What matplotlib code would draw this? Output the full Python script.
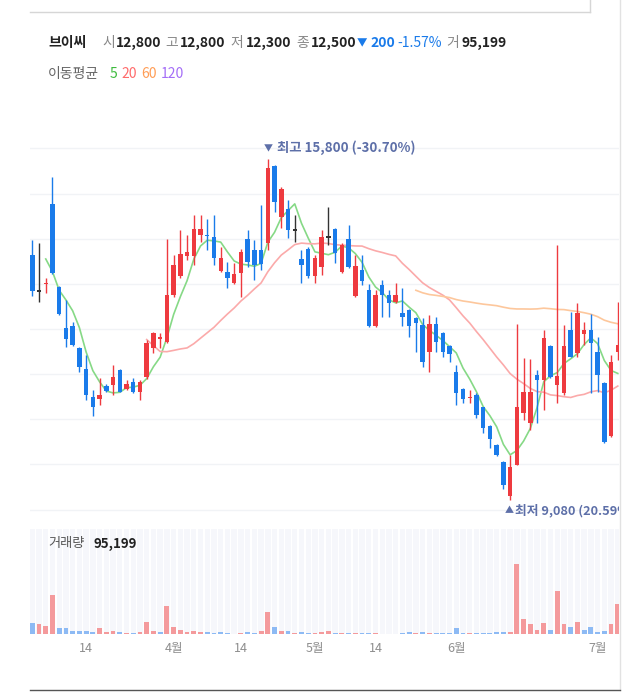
import numpy as np
import matplotlib
matplotlib.use('Agg')
import matplotlib.pyplot as plt
from matplotlib.lines import Line2D

plt.rcParams['font.family'] = ['Noto Sans CJK KR', 'DejaVu Sans']

# two sessions before the first visible candle (only needed for the moving averages)
pre_close = [14800, 14590]

opens = [13910, 13200, 13340, 14910, 13280, 12470, 12510, 12080, 11660, 11110,
         11070, 11330, 11350, 11640, 11270, 11410, 11210, 11500, 12070, 12250,
         12200, 13110, 13500, 13890, 13890, 14300, 14300, 14260, 13600, 13570,
         13350, 13550, 14220, 14010, 14010, 14140, 15660, 14660, 14810, 14400,
         13830, 14030, 13490, 13670, 14260, 14420, 13570, 14220, 13100, 13610,
         13220, 12510, 13320, 13120, 12980, 12770, 12820, 12670, 12530, 12000,
         12550, 12370, 12110, 11610, 11260, 11080, 11150, 10910, 10540, 10160,
         9830, 9160, 9770, 10800, 10600, 11540, 11440, 12110, 11350, 11180,
         12420, 11970, 12350, 12430, 12000, 11390, 10340, 12000]
highs = [14200, 14140, 13460, 15450, 13300, 13020, 12590, 12100, 11940, 11250,
         11480, 11370, 11740, 11660, 11440, 11480, 11440, 12230, 12400, 12370,
         14220, 13910, 14400, 14300, 14700, 14700, 14610, 14700, 14070, 13770,
         13750, 14030, 14400, 14200, 14890, 15800, 15680, 15250, 14990, 14700,
         14010, 14070, 13910, 14400, 14850, 14440, 14140, 14500, 13910, 13910,
         13340, 13220, 13420, 13220, 13360, 13260, 12840, 12690, 12670, 12730,
         12690, 12400, 12130, 11740, 11280, 11250, 11180, 10920, 10560, 10180,
         9840, 9970, 12550, 11870, 11850, 11640, 12430, 12130, 14110, 12530,
         12790, 12960, 12590, 12750, 12300, 11400, 11940, 12980]
lows = [13100, 12980, 13160, 13540, 12730, 12100, 12120, 11610, 11050, 10740,
        10950, 11210, 11150, 11200, 11250, 11190, 11050, 11460, 11980, 12080,
        12170, 13090, 13460, 13810, 13710, 14170, 14010, 13710, 13580, 13250,
        13340, 13080, 13680, 13420, 13610, 14010, 14760, 14440, 14240, 14160,
        13360, 13450, 13360, 13510, 14110, 13750, 13550, 13660, 13090, 13320,
        12490, 12490, 12690, 12690, 12960, 12500, 12300, 12000, 11710, 11610,
        12000, 11900, 11790, 10950, 10990, 11000, 10690, 10400, 10100, 9950,
        9290, 9080, 9760, 10660, 10460, 10590, 10850, 11480, 11000, 11150,
        11890, 11900, 12130, 11190, 11210, 10200, 10330, 11840]
closes = [13200, 13200, 13360, 13550, 12750, 12250, 12130, 11700, 11150, 10910,
          11150, 11230, 11510, 11210, 11360, 11210, 11410, 12170, 12380, 12300,
          13120, 13710, 13920, 13960, 14420, 14420, 14280, 13850, 13840, 13450,
          13530, 13970, 13770, 13710, 13730, 15620, 14950, 15210, 14400, 14400,
          13710, 13490, 13850, 14260, 14260, 13950, 14110, 13670, 13690, 13400,
          12510, 13120, 13120, 12960, 13120, 12690, 12510, 12570, 11800, 12550,
          12200, 12000, 11960, 11180, 11060, 11110, 10750, 10500, 10280, 9970,
          9380, 9720, 10920, 11210, 11210, 11440, 12270, 11510, 11520, 12110,
          11900, 12770, 12420, 12180, 11540, 10230, 11790, 12130]
volumes = [36000, 32000, 25600, 126000, 18200, 18200, 10600, 10600, 10600, 6400,
           18200, 6400, 10600, 6400, 3200, 3200, 6400, 39400, 10600, 6400,
           90600, 21400, 12800, 6400, 10600, 6400, 6400, 3200, 6400, 3200,
           1600, 3200, 6400, 3200, 10600, 69400, 23400, 10600, 10600, 3200,
           6400, 3200, 3200, 5400, 10600, 3200, 3200, 3200, 3200, 2200,
           3200, 2200, 1600, 1600, 1600, 4800, 7400, 3200, 6400, 3200,
           3200, 3200, 3200, 18200, 3200, 3200, 3200, 3200, 3200, 6400,
           6400, 7400, 224000, 48000, 32000, 13800, 35200, 13800, 138600, 32000,
           21400, 39400, 13800, 21400, 5400, 9600, 32000, 95199]

hi_pct = -30.70
lo_pct = 20.59

tick_pos = [8, 21, 31, 42, 51, 63, 84]
tick_labels = ['14', '4월', '14', '5월', '14', '6월', '7월']
grid_levels = [16010, 15120, 14230, 13340, 12450, 11560, 10670, 9780, 8890]
ma_periods = [5, 20, 60, 120]
ma_colors = ['#86d986', '#fbaaaa', '#fdc79c', '#c3a6f7']

RED, BLUE, BLACK = '#ee3a3f', '#1a7bea', '#333333'
VRED, VBLUE = '#f49a9c', '#8dbaf4'
NOTE = '#5d6fa8'

o = np.array(opens, float)
h = np.array(highs, float)
l = np.array(lows, float)
c = np.array(closes, float)
v = np.array(volumes, float)
x = np.arange(len(c))

all_close = np.array(pre_close + closes, float)
all_x = np.arange(-len(pre_close), len(c))
prev_close = all_close[len(pre_close) - 1:-1]

W, H = 630, 696
fig = plt.figure(figsize=(W / 100, H / 100), dpi=100)
fig.patch.set_facecolor('white')

def fx(px):
    return px / W

def fy(py):
    return 1 - py / H

ax = fig.add_axes([fx(30), fy(520), fx(589), (520 - 100) / H])
axv = fig.add_axes([fx(30), fy(634), fx(589), (634 - 529) / H])

x0, x1 = -0.34, 87.18

# price panel
for lev in grid_levels:
    ax.axhline(lev, color='#f1f3f6', lw=1, zorder=0)

for p, col in zip(ma_periods, ma_colors):
    if len(all_close) < p:
        continue
    ma = np.full(len(all_close), np.nan)
    ma[p - 1:] = np.convolve(all_close, np.ones(p) / p, mode='valid')
    ax.plot(all_x, ma, color=col, lw=1.2, zorder=1)

cols = np.where(c > o, RED, np.where(c < o, BLUE, BLACK))
ax.vlines(x, l, h, colors=cols, lw=1.0, zorder=2)
body = np.maximum(np.abs(c - o), 25)
ax.bar(x, body, bottom=np.minimum(o, c) - np.where(c == o, 12, 0), width=0.66,
       color=cols, linewidth=0, zorder=3)

# high / low markers
ihi = int(np.argmax(h))
ilo = int(np.argmin(l))
ax.annotate('▼', (ihi, h[ihi]), xytext=(-4, 6), textcoords='offset pixels',
            color=NOTE, fontsize=6.5, ha='left', va='bottom')
ax.annotate(f'최고 {h[ihi]:,.0f} ({hi_pct:.2f}%)', (ihi, h[ihi]),
            xytext=(9, 4), textcoords='offset pixels', color=NOTE,
            fontsize=9.6, ha='left', va='bottom', fontweight='bold')
ax.annotate('▲', (ilo, l[ilo]), xytext=(-5, -6), textcoords='offset pixels',
            color=NOTE, fontsize=6.5, ha='left', va='top')
ax.annotate(f'최저 {l[ilo]:,.0f} ({lo_pct:.2f}%)', (ilo, l[ilo]),
            xytext=(5, -4), textcoords='offset pixels', color=NOTE,
            fontsize=9.2, ha='left', va='top', fontweight='bold',
            annotation_clip=False, clip_on=True)

ax.set_xlim(x0, x1)
ax.set_ylim(8685, 16963)
ax.axis('off')

# volume panel
vmax = 105 * 3200
axv.bar(x, np.full(len(x), vmax), width=0.8, color='#f6f7fb', linewidth=0, zorder=0)
vcols = np.where(c >= prev_close, VRED, VBLUE)
axv.bar(x, v, width=0.72, color=vcols, linewidth=0, zorder=2)
axv.set_xlim(x0, x1)
axv.set_ylim(0, vmax)
for s in axv.spines.values():
    s.set_visible(False)
axv.set_yticks([])
axv.set_xticks(tick_pos)
axv.set_xticklabels(tick_labels, fontsize=9, color='#8e8e8e')
axv.tick_params(axis='x', length=0, pad=6)
axv.text(18 / 589, 0.86, '거래량', transform=axv.transAxes, fontsize=9.5,
         color='#555555', va='center', ha='left')
axv.text(63 / 589, 0.86, f'{volumes[-1]:,}', transform=axv.transAxes,
         fontsize=9.5, color='#222222', va='center', ha='left', fontweight='bold')

# header
hdr = [('브이씨', 48, '#222222', 'bold', 10),
       ('시', 102, '#888888', 'normal', 10), ('12,800', 116, '#222222', 'bold', 10),
       ('고', 165, '#888888', 'normal', 10), ('12,800', 180, '#222222', 'bold', 10),
       ('저', 230, '#888888', 'normal', 10), ('12,300', 246, '#222222', 'bold', 10),
       ('종', 296, '#888888', 'normal', 10), ('12,500', 311, '#222222', 'bold', 10),
       ('▼', 357, '#1a7bea', 'normal', 7.5), ('200', 370, '#1a7bea', 'bold', 10),
       ('-1.57%', 397, '#1a7bea', 'normal', 10),
       ('거', 446, '#888888', 'normal', 10), ('95,199', 462, '#222222', 'bold', 10)]
for t, px, col, wt, fs in hdr:
    fig.text(fx(px), fy(43), t, color=col, fontweight=wt, fontsize=fs,
             ha='left', va='center')

legend_bits = [('이동평균', 48, '#666666'), ('5', 110, '#3dbb3d'),
               ('20', 121, '#ff6b6b'), ('60', 141, '#ff9d55'),
               ('120', 161, '#a46ef7')]
for t, px, col in legend_bits:
    fig.text(fx(px), fy(74), t, color=col, fontsize=10, ha='left', va='center')

# frame lines
fig.add_artist(Line2D([fx(30), fx(590)], [fy(12), fy(12)], color='#d6d6d6', lw=1))
fig.add_artist(Line2D([fx(590), fx(590)], [fy(0), fy(12)], color='#d6d6d6', lw=1))
fig.add_artist(Line2D([fx(620), fx(620)], [fy(0), fy(690)], color='#e2e2e2', lw=1))
fig.add_artist(Line2D([fx(30), fx(620)], [fy(690), fy(690)], color='#555555', lw=1))

fig.savefig('out.png', dpi=100, facecolor='white')
